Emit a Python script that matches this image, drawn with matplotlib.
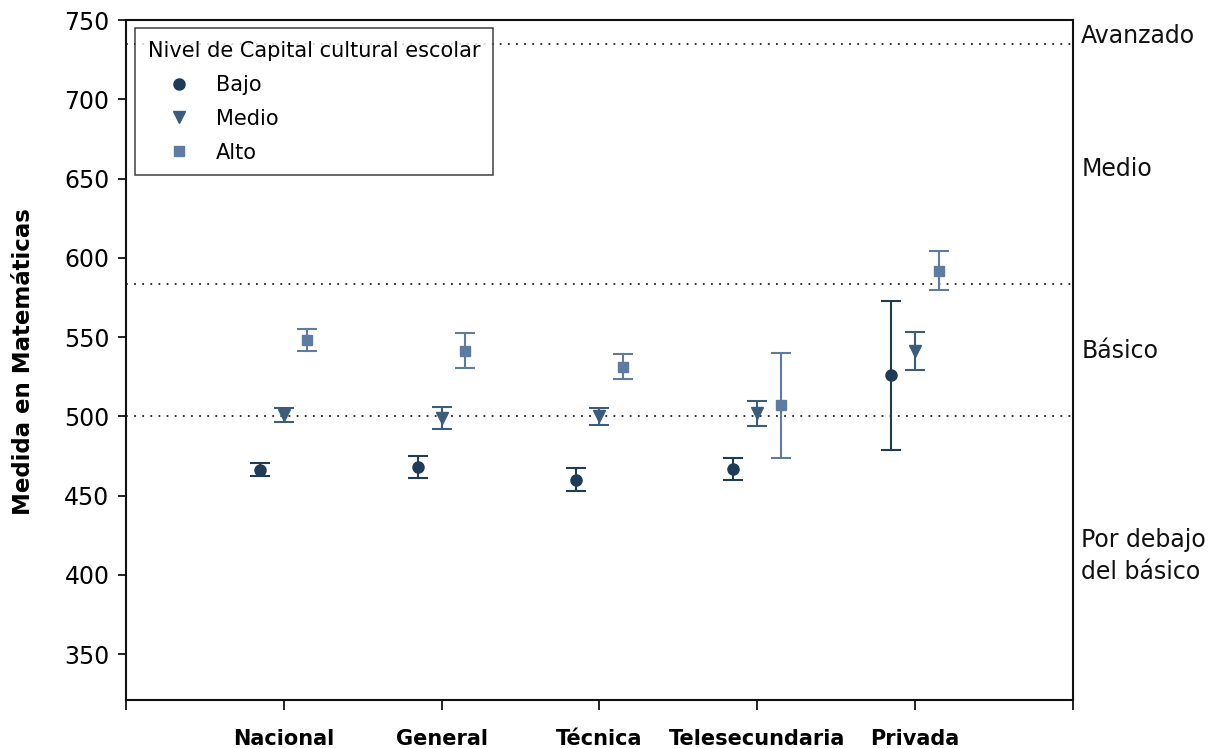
import numpy as np
import matplotlib.pyplot as plt
from matplotlib.lines import Line2D

categorias = ["Nacional", "General", "Técnica", "Telesecundaria", "Privada"]
niveles = ["Bajo", "Medio", "Alto"]

media_bajo = [466.5, 468, 460, 467, 526]
err_bajo = [4, 7, 7.3, 7, 47]
media_medio = [501, 499, 500, 502, 541]
err_medio = [4.5, 6.8, 5.5, 8, 12]
media_alto = [548, 541.5, 531.5, 507, 592]
err_alto = [7, 11, 8, 33, 12.3]

cortes = [500, 583.5, 735]
etiquetas_nivel = ["Por debajo\ndel básico", "Básico", "Medio", "Avanzado"]
pos_etiquetas = [412, 541, 656, 740]

colores = ["#1e3b57", "#3c5c7e", "#5e7ca2"]
marcadores = ["o", "v", "s"]
tamanos = [8, 8, 6.5]

fig, ax = plt.subplots(figsize=(12.12, 7.48), dpi=100)
fig.subplots_adjust(left=0.104, right=0.885, top=0.973, bottom=0.064)

x = np.arange(1, len(categorias) + 1)
desp = [-0.15, 0.0, 0.15]
series = [(media_bajo, err_bajo), (media_medio, err_medio), (media_alto, err_alto)]

for c in cortes:
    ax.axhline(c, color="#222222", lw=1.3, ls=(0, (1, 3.5)), zorder=1)

for i, (m, e) in enumerate(series):
    ax.errorbar(x + desp[i], m, yerr=e, fmt=marcadores[i], color=colores[i],
                ms=tamanos[i], capsize=7.5, capthick=1.5, elinewidth=1.5, zorder=3)

ax.set_xlim(0, 6)
ax.set_ylim(321, 750)
ax.set_xticks(np.arange(0, 7))
ax.set_xticklabels([""] + categorias + [""], fontweight="bold", fontsize=15)
ax.set_yticks(np.arange(350, 751, 50))
ax.tick_params(axis="y", labelsize=17, length=6, width=1.2, direction="out", pad=6)
ax.tick_params(axis="x", length=7, width=1.2, direction="out", pad=14)
ax.set_ylabel("Medida en Matemáticas", fontweight="bold", fontsize=16.5)
ax.yaxis.set_label_coords(-0.096, 0.498)

for s in ax.spines.values():
    s.set_linewidth(1.5)
    s.set_color("#111111")

for t, yv in zip(etiquetas_nivel, pos_etiquetas):
    ax.text(1.009, yv, t, transform=ax.get_yaxis_transform(), fontsize=17,
            va="center", ha="left", color="#111111", linespacing=1.45)

handles = [Line2D([], [], ls="none", marker=marcadores[i], color=colores[i],
                  ms=tamanos[i]) for i in range(3)]
leg = ax.legend(handles, niveles, title="Nivel de Capital cultural escolar",
                loc="upper left", bbox_to_anchor=(0.0095, 0.988), borderaxespad=0,
                fontsize=15, title_fontsize=15, frameon=True, fancybox=False,
                edgecolor="#111111", handletextpad=0.3, borderpad=0.6,
                labelspacing=0.67, handlelength=3.0)
leg.get_frame().set_linewidth(1.1)
leg._legend_box.align = "left"

fig.savefig("out.png", dpi=100)
